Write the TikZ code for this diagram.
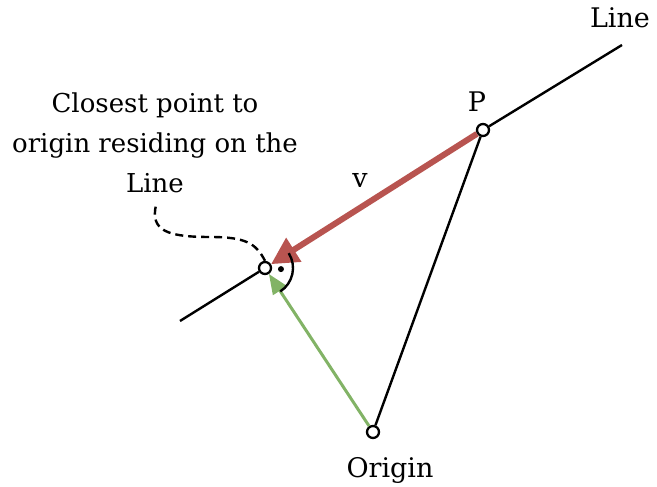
\documentclass[tikz,border=0pt]{standalone}
\usepackage{fontspec}
\setmainfont{DejaVu Serif}
\usetikzlibrary{arrows.meta}
\definecolor{vred}{HTML}{B85450}
\definecolor{vgreen}{HTML}{82B366}
\tikzset{
  pt/.style={circle, draw, fill=white, line width=2.3pt, inner sep=0pt, minimum size=12pt},
  lbl/.style={anchor=base, font=\fontsize{27}{40}\selectfont},
}
\begin{document}
\begin{tikzpicture}[x=1pt, y=1pt, line width=2.4pt]
  \useasboundingbox (0,0) rectangle (657,487);
  \coordinate (L1) at (180,166);
  \coordinate (L2) at (622,442);

  \node[pt] (C) at (265,219) {};
  \node[pt] (P) at (483,357) {};
  \node[pt] (O) at (373,55) {};

  \draw (L1)--(C) (P)--(L2);
  \draw (O)--(P);
  \draw[vgreen, line width=3pt, -{Triangle[length=20pt,width=16pt]}] (O)--(C);
  \draw[vred, line width=6pt, -{Triangle[length=27pt,width=27pt]}] (P)--(C);

  % right angle mark
  \draw ([shift={(32:28pt)}]C.center) arc[start angle=32, end angle=-57, radius=28pt];
  \fill ([shift={(-4:16pt)}]C.center) circle[radius=3pt];

  \draw[dash pattern=on 8pt off 5pt] (C.north) .. controls (256,244) and (245,250) .. (210,250)
    .. controls (168,250) and (150,256) .. (156,282);

  \node[lbl] (line) at (620,459) {Line};
  \node[lbl] (p) at (477,375) {P};
  \node[lbl] (v) at (360,299) {v};
  \node[lbl] (origin) at (390,9) {Origin};
  \node[font=\fontsize{26}{40}\selectfont, align=center] (closest) at (155,344)
    {Closest point to\\origin residing on the\\Line};
\end{tikzpicture}
\end{document}
